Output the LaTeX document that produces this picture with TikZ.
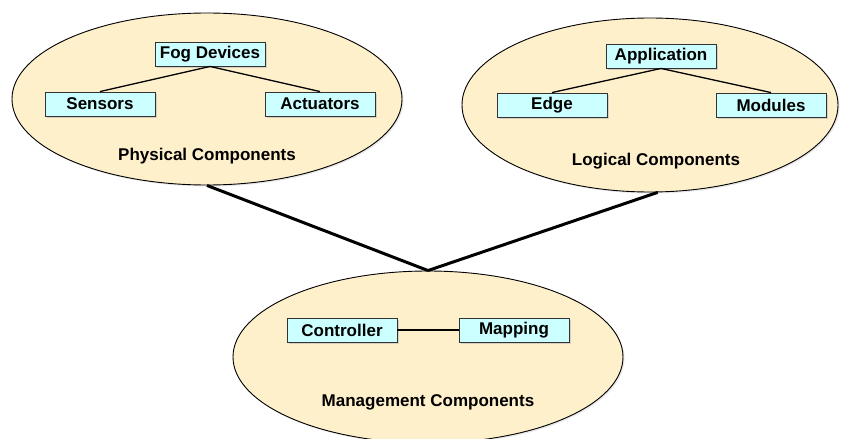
\documentclass[tikz,border=0pt]{standalone}
\usepackage{fontspec}
\setmainfont{Liberation Sans}
\usetikzlibrary{shapes.geometric,shadows}
\definecolor{ellfill}{HTML}{FFF0CC}
\definecolor{boxfill}{HTML}{CCFFFF}
\begin{document}
\begin{tikzpicture}[x=1pt,y=-1pt,
  grp/.style={ellipse,draw=black,line width=0.9pt,fill=ellfill,inner sep=0pt,
    drop shadow={shadow xshift=1.5pt,shadow yshift=-1.5pt,fill=gray!35}},
  item/.style={rectangle,draw=black!80,line width=0.9pt,fill=boxfill,minimum width=110pt,minimum height=24pt,inner sep=0pt,
    font=\fontsize{17}{19}\selectfont\bfseries,
    drop shadow={shadow xshift=1.5pt,shadow yshift=-1.5pt,fill=gray!60}},
  lbl/.style={font=\fontsize{17}{19}\selectfont\bfseries,inner sep=0pt},
  tree/.style={line width=1.3pt},
  link/.style={line width=3pt}]
\useasboundingbox (0,0) rectangle (841,439);
% ellipses
\node[grp,minimum width=390pt,minimum height=172pt] (phy) at (207,99) {};
\node[grp,minimum width=376pt,minimum height=174pt] (log) at (650,105) {};
\node[grp,minimum width=390pt,minimum height=172pt] (man) at (428,357) {};
% physical
\node[item] (fog) at (210,54) {Fog Devices};
\node[item] (sen) at (100,104) {Sensors};
\node[item] (act) at (320,104) {Actuators};
\node[lbl] (plabel) at (207,156) {Physical Components};
% logical
\node[item] (app) at (661,56) {Application};
\node[item] (edge) at (552,105) {Edge};
\node[item] (mod) at (771,105) {Modules};
\node[lbl] (llabel) at (656,161) {Logical Components};
% management
\node[item] (ctl) at (342,330) {Controller};
\node[item] (map) at (514,330) {Mapping};
\node[lbl] (mlabel) at (428,402) {Management Components};
% tree lines
\draw[tree] (fog.south) -- (sen.north);
\draw[tree] (fog.south) -- (act.north);
\draw[tree] (app.south) -- (edge.north);
\draw[tree] (app.south) -- (mod.north);
\draw[tree] (ctl.east) -- (map.west);
% links
\draw[link] (phy.south) -- (man.north);
\draw[link] (log.-85) -- (man.north);
\end{tikzpicture}
\end{document}
